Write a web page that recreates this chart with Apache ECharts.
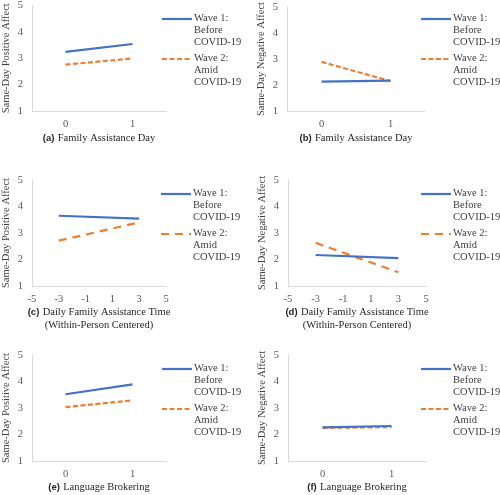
<!DOCTYPE html>
<html>
<head>
<meta charset="utf-8">
<script src="https://cdn.jsdelivr.net/npm/echarts@6/dist/echarts.min.js"></script>
<style>
html,body{margin:0;padding:0;background:#fff;}
#chart{width:500px;height:495px;}
</style>
</head>
<body>
<div id="chart"></div>
<script>
// ---- Data ----
const dayCategories = ['0', '1'];
const timeX = [-3, 3];
const yTicks = [1, 2, 3, 4, 5];
const timeTicks = [-5, -3, -1, 1, 3, 5];

const seriesNames = ['Wave 1: Before COVID-19', 'Wave 2: Amid COVID-19'];
const legendLines = [['Wave 1:', 'Before', 'COVID-19'], ['Wave 2:', 'Amid', 'COVID-19']];

const posDayWave1 = [3.24, 3.54];
const posDayWave2 = [2.76, 2.99];
const negDayWave1 = [2.13, 2.17];
const negDayWave2 = [2.89, 2.15];
const posTimeWave1 = [3.65, 3.54];
const posTimeWave2 = [2.71, 3.40];
const negTimeWave1 = [2.17, 2.05];
const negTimeWave2 = [2.63, 1.52];
const posLBWave1 = [3.52, 3.89];
const posLBWave2 = [3.03, 3.29];
const negLBWave1 = [2.27, 2.32];
const negLBWave2 = [2.25, 2.28];

const yNamePos = 'Same-Day Positive Affect';
const yNameNeg = 'Same-Day Negative Affect';

// ---- Layout / style ----
const SERIF = '"Liberation Serif", "Times New Roman", serif';
const SANS = '"Liberation Sans", Arial, sans-serif';
const BLUE = '#4472C4';
const ORANGE = '#ED7D31';
const AXIS = '#D9D9D9';

const panels = [
  {tag:'(a)', cap:'Family Assistance Day', cap2:null, type:'cat', yName:yNamePos, w1:posDayWave1, w2:posDayWave2, left:27, top:5, width:139, gap:21, dash:[5,2.5], legX:162},
  {tag:'(b)', cap:'Family Assistance Day', cap2:null, type:'cat', yName:yNameNeg, w1:negDayWave1, w2:negDayWave2, left:287, top:5, width:138, gap:21, dash:[5,2.5], legX:421},
  {tag:'(c)', cap:'Daily Family Assistance Time', cap2:'(Within-Person Centered)', type:'val', yName:yNamePos, w1:posTimeWave1, w2:posTimeWave2, left:27, top:180, width:139, gap:17, dash:[8,6], legX:161},
  {tag:'(d)', cap:'Daily Family Assistance Time', cap2:'(Within-Person Centered)', type:'val', yName:yNameNeg, w1:negTimeWave1, w2:negTimeWave2, left:288, top:180, width:138, gap:17, dash:[8,6], legX:421},
  {tag:'(e)', cap:'Language Brokering', cap2:null, type:'cat', yName:yNamePos, w1:posLBWave1, w2:posLBWave2, left:27, top:355, width:139, gap:20, dash:[5,2.5], legX:162},
  {tag:'(f)', cap:'Language Brokering', cap2:null, type:'cat', yName:yNameNeg, w1:negLBWave1, w2:negLBWave2, left:288, top:355, width:138, gap:20, dash:[5,2.5], legX:421}
];
const PLOT_H = 106;

const grid = [], xAxis = [], yAxis = [], series = [], graphic = [];

panels.forEach((p, i) => {
  grid.push({left: p.left, top: p.top, width: p.width, height: PLOT_H, containLabel: false});
  let name = '{b|' + p.tag + '} {n|' + p.cap + '}';
  if (p.cap2) name += '\n{n|' + p.cap2 + '}';
  const common = {
    gridIndex: i,
    axisLine: {show: true, onZero: false, lineStyle: {color: AXIS, width: 1}},
    axisTick: {show: false},
    splitLine: {show: false},
    axisLabel: {color: '#595959', fontFamily: SERIF, fontSize: 10.5, margin: 8},
    name: name,
    nameLocation: 'middle',
    nameGap: p.gap,
    nameTextStyle: {
      color: '#262626',
      lineHeight: 12.7,
      rich: {
        b: {fontFamily: SANS, fontWeight: 'bold', fontSize: 9.5, color: '#262626', lineHeight: 12.7},
        n: {fontFamily: SERIF, fontSize: 10.5, color: '#262626', lineHeight: 12.7}
      }
    }
  };
  if (p.type === 'cat') {
    xAxis.push(Object.assign({type: 'category', data: dayCategories, boundaryGap: true}, common));
  } else {
    xAxis.push(Object.assign({type: 'value', min: timeTicks[0], max: timeTicks[timeTicks.length - 1], interval: timeTicks[1] - timeTicks[0]}, common));
  }
  yAxis.push({
    gridIndex: i, type: 'value', min: yTicks[0], max: yTicks[yTicks.length - 1], interval: 1,
    axisLine: {show: true, onZero: false, lineStyle: {color: AXIS, width: 1}},
    axisTick: {show: false},
    splitLine: {show: false},
    axisLabel: {color: '#595959', fontFamily: SERIF, fontSize: 10.5, margin: 9},
    name: p.yName, nameLocation: 'middle', nameGap: 20, nameRotate: 90,
    nameTextStyle: {color: '#404040', fontFamily: SERIF, fontSize: 10.5}
  });
  const mk = arr => p.type === 'cat' ? arr.slice() : arr.map((v, k) => [timeX[k], v]);
  series.push({
    type: 'line', name: seriesNames[0], xAxisIndex: i, yAxisIndex: i, data: mk(p.w1),
    symbol: 'none', lineStyle: {color: BLUE, width: 2.2}, itemStyle: {color: BLUE}, z: 3, silent: true, animation: false
  });
  series.push({
    type: 'line', name: seriesNames[1], xAxisIndex: i, yAxisIndex: i, data: mk(p.w2),
    symbol: 'none', lineStyle: {color: ORANGE, width: 2.2, type: p.dash}, itemStyle: {color: ORANGE}, z: 2, silent: true, animation: false
  });
  // legend (drawn as graphic keys)
  [0, 1].forEach(k => {
    const yc = p.top + 14 + k * 40;
    graphic.push({
      type: 'line', silent: true,
      shape: {x1: p.legX, y1: yc, x2: p.legX + 30, y2: yc},
      style: {stroke: k === 0 ? BLUE : ORANGE, lineWidth: 2.2, lineDash: k === 0 ? null : p.dash}
    });
    graphic.push({
      type: 'text', silent: true, left: p.legX + 32, top: yc - 6.2,
      style: {text: legendLines[k].join('\n'), fill: '#404040', font: '10.5px ' + SERIF, lineHeight: 11.7}
    });
  });
});

const chart = echarts.init(document.getElementById('chart'), null, {renderer: 'canvas'});
chart.setOption({
  animation: false,
  backgroundColor: '#ffffff',
  grid, xAxis, yAxis, series, graphic
});
</script>
</body>
</html>
